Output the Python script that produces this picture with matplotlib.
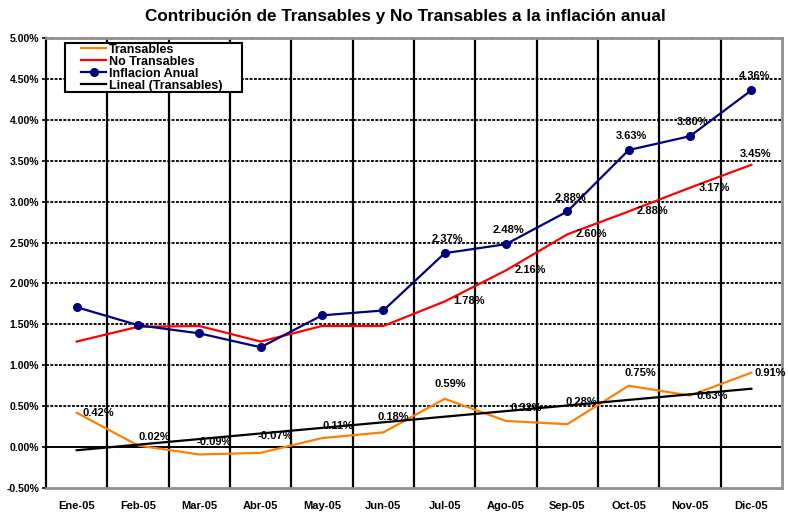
import numpy as np
import matplotlib
matplotlib.use("Agg")
import matplotlib.pyplot as plt
from matplotlib.patches import Rectangle
from matplotlib.ticker import FuncFormatter, MultipleLocator

plt.rcParams['font.family'] = ['Liberation Sans', 'DejaVu Sans']

# Data
meses = ["Ene-05", "Feb-05", "Mar-05", "Abr-05", "May-05", "Jun-05",
         "Jul-05", "Ago-05", "Sep-05", "Oct-05", "Nov-05", "Dic-05"]
transables = [0.42, 0.02, -0.09, -0.07, 0.11, 0.18, 0.59, 0.32, 0.28, 0.75, 0.63, 0.91]
no_transables = [1.29, 1.47, 1.48, 1.29, 1.48, 1.48, 1.78, 2.16, 2.60, 2.88, 3.17, 3.45]
inflacion = [1.71, 1.49, 1.39, 1.22, 1.61, 1.67, 2.37, 2.48, 2.88, 3.63, 3.80, 4.36]

# which points carry a data label
infl_label_idx = [6, 7, 8, 9, 10, 11]
notr_label_idx = [6, 7, 8, 9, 10, 11]

x = np.arange(len(meses))

# linear trend of Transables (Excel style trendline)
coef = np.polyfit(x + 1, transables, 1)
tendencia = np.polyval(coef, x + 1)

fig = plt.figure(figsize=(7.88, 5.13), dpi=100)
ax = fig.add_axes([0.0584, 0.0487, 0.934, 0.8773])

c_orange = "#FF8000"
c_red = "#FF0000"
c_navy = "#000080"

ax.plot(x, transables, color=c_orange, lw=1.6, label="Transables", zorder=4)
ax.plot(x, no_transables, color=c_red, lw=1.6, label="No Transables", zorder=4)
ax.plot(x, inflacion, color=c_navy, lw=1.6, marker="o", ms=5.5,
        label="Inflacion Anual", zorder=5)
ax.plot(x, tendencia, color="black", lw=1.6, label="Lineal (Transables)", zorder=4)

ax.set_xlim(-0.5, len(meses) - 0.5)
ax.set_ylim(-0.5, 5.0)

# grid: dashed horizontal, solid vertical between categories
ax.yaxis.set_major_locator(MultipleLocator(0.5))
for yv in np.arange(0.5, 4.99, 0.5):
    ax.axhline(yv, color="black", lw=1.3, ls=(0, (1.6, 0.8)), zorder=1)
ax.axhline(0, color="black", lw=1.4, zorder=2)
for xv in np.arange(0.5, len(meses) - 0.5, 1):
    ax.axvline(xv, color="black", lw=1.6, zorder=1)

ax.set_xticks(x)
ax.set_xticklabels(meses, fontsize=8, fontweight="bold")
ax.tick_params(axis="x", length=0, pad=9)
ax.tick_params(axis="y", length=3, width=1.2, labelsize=7.5, pad=2)
for t in ax.get_yticklabels():
    t.set_fontweight("bold")
ax.yaxis.set_major_formatter(FuncFormatter(lambda v, p: f"{v:.2f}%"))

for s in ["top", "right", "bottom"]:
    ax.spines[s].set_color("#909090")
    ax.spines[s].set_linewidth(2)
ax.spines["top"].set_linestyle((0, (1.6, 0.8)))
ax.spines["left"].set_color("black")
ax.spines["left"].set_linewidth(1.6)

lab_kw = dict(fontsize=8, fontweight="bold", textcoords="offset points", zorder=6)

# Transables labels (offsets in points)
tr_off = [(4, 0), (0, 6), (-2, 9), (-2, 12), (0, 9), (-4, 11), (-7, 11),
          (3, 9), (-1, 16), (-3, 9), (5, 0), (2, 0)]
for i in range(len(meses)):
    ax.annotate(f"{transables[i]:.2f}%", (x[i], transables[i]), xytext=tr_off[i],
                ha="left", va="center", **lab_kw)

for i in notr_label_idx:
    if i == len(meses) - 1:
        ax.annotate(f"{no_transables[i]:.2f}%", (x[i], no_transables[i]),
                    xytext=(-8, 8), ha="left", va="center", **lab_kw)
    else:
        ax.annotate(f"{no_transables[i]:.2f}%", (x[i], no_transables[i]),
                    xytext=(6, 0), ha="left", va="center", **lab_kw)

for i in infl_label_idx:
    ax.annotate(f"{inflacion[i]:.2f}%", (x[i], inflacion[i]), xytext=(2, 10),
                ha="center", va="center", **lab_kw)

# legend box drawn separately (wider horizontal padding than vertical)
ax.add_patch(Rectangle((0.0258, 0.880), 0.2405, 0.109, transform=ax.transAxes,
                       facecolor="white", edgecolor="black", lw=1.5, zorder=9))
leg = ax.legend(loc="upper left", bbox_to_anchor=(0.048, 0.987),
                prop={"weight": "bold", "size": 9}, frameon=False,
                handlelength=2.0, labelspacing=0.0, borderpad=0,
                handletextpad=0.2, borderaxespad=0)
leg.set_zorder(10)

fig.text(0.514, 0.968, "Contribución de Transables y No Transables a la inflación anual",
         fontsize=12.3, fontweight="bold", ha="center", va="center")

fig.savefig("out.png", dpi=100)
